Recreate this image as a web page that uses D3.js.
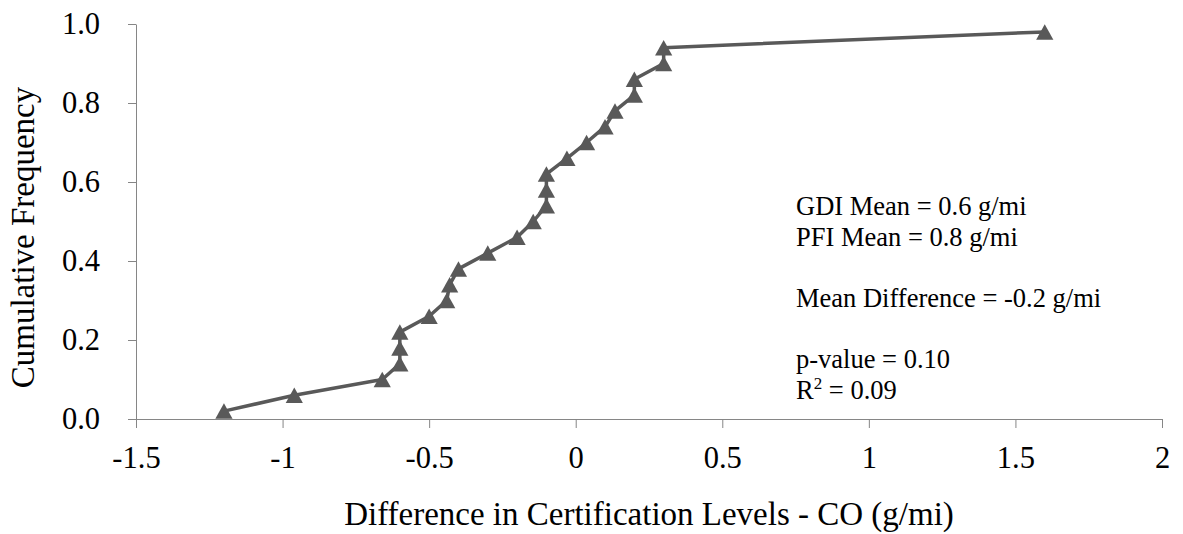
<!DOCTYPE html>
<html>
<head>
<meta charset="utf-8">
<script src="https://cdn.jsdelivr.net/npm/d3@7"></script>
<style>
  html, body { margin: 0; padding: 0; background: #fff; }
  svg { display: block; }
  svg text { font-family: "Liberation Serif", "Times New Roman", Tinos, "DejaVu Serif", serif !important; fill: #000; }
</style>
</head>
<body>
<svg id="chart" width="1183" height="534"></svg>
<script>
// Difference in certification CO levels (g/mi), sorted, with cumulative frequency
const coDifference = [-1.2, -0.96, -0.66, -0.6, -0.6, -0.6, -0.5, -0.44, -0.43, -0.4,
                      -0.3, -0.2, -0.145, -0.1, -0.1, -0.1, -0.03, 0.037, 0.1, 0.134,
                      0.2, 0.2, 0.3, 0.3, 1.6];
const cumulativeFrequency = [0.02, 0.06, 0.10, 0.14, 0.18, 0.22, 0.26, 0.30, 0.34, 0.38,
                             0.42, 0.46, 0.50, 0.54, 0.58, 0.62, 0.66, 0.70, 0.74, 0.78,
                             0.82, 0.86, 0.90, 0.94, 0.98];
const xTicks = [-1.5, -1, -0.5, 0, 0.5, 1, 1.5, 2];
const xTickLabels = ["-1.5", "-1", "-0.5", "0", "0.5", "1", "1.5", "2"];
const yTicks = [0, 0.2, 0.4, 0.6, 0.8, 1.0];
const yTickLabels = ["0.0", "0.2", "0.4", "0.6", "0.8", "1.0"];
const statsLines = [
  "GDI Mean = 0.6 g/mi",
  "PFI Mean = 0.8 g/mi",
  "",
  "Mean Difference = -0.2 g/mi",
  "",
  "p-value = 0.10",
  "R2 = 0.09"
];

const FONT = '"Liberation Serif", "Times New Roman", Tinos, "DejaVu Serif", serif';
const svg = d3.select("#chart");
const plot = { left: 136, right: 1162, top: 24, bottom: 419 };
const axisColor = "#868686";
const markColor = "#595959";

const x = d3.scaleLinear().domain([-1.5, 2]).range([plot.left, plot.right]);
const y = d3.scaleLinear().domain([0, 1]).range([plot.bottom, plot.top]);

// x axis
const xAxis = svg.append("g")
  .attr("transform", `translate(0,${plot.bottom})`)
  .call(d3.axisBottom(x).tickValues(xTicks)
    .tickFormat((d, i) => xTickLabels[i])
    .tickSizeInner(9).tickSizeOuter(0).tickPadding(18))
  .attr("font-family", FONT);
xAxis.select(".domain").attr("stroke", axisColor);
xAxis.selectAll(".tick line").attr("stroke", axisColor);
xAxis.selectAll(".tick text").attr("font-size", 30.5).attr("fill", "#000");

// y axis
const yAxis = svg.append("g")
  .attr("transform", `translate(${plot.left},0)`)
  .call(d3.axisLeft(y).tickValues(yTicks)
    .tickFormat((d, i) => yTickLabels[i])
    .tickSizeInner(8).tickSizeOuter(0).tickPadding(28))
  .attr("font-family", FONT);
yAxis.select(".domain").attr("stroke", axisColor);
yAxis.selectAll(".tick line").attr("stroke", axisColor);
yAxis.selectAll(".tick text").attr("font-size", 30.5).attr("fill", "#000");

// axis titles
svg.append("text")
  .attr("x", (plot.left + plot.right) / 2)
  .attr("y", 525)
  .attr("text-anchor", "middle")
  .attr("font-family", FONT)
  .attr("font-size", 33)
  .text("Difference in Certification Levels - CO (g/mi)");

svg.append("text")
  .attr("transform", `translate(34,${(plot.top + plot.bottom) / 2 + 16}) rotate(-90)`)
  .attr("text-anchor", "middle")
  .attr("font-family", FONT)
  .attr("font-size", 33)
  .text("Cumulative Frequency");

// cumulative distribution line
const pts = coDifference.map((d, i) => [d, cumulativeFrequency[i]]);
svg.append("path")
  .datum(pts)
  .attr("fill", "none")
  .attr("stroke", markColor)
  .attr("stroke-width", 3.5)
  .attr("stroke-linejoin", "round")
  .attr("d", d3.line().x(d => x(d[0])).y(d => y(d[1])));

// triangle markers, centred on their bounding box
const triangle = {
  draw(ctx, size) {
    const w = Math.sqrt(size) * 1.1, h = w * 0.9;
    ctx.moveTo(0, -h / 2);
    ctx.lineTo(w / 2, h / 2);
    ctx.lineTo(-w / 2, h / 2);
    ctx.closePath();
  }
};
svg.append("g").selectAll("path")
  .data(pts)
  .join("path")
  .attr("transform", d => `translate(${x(d[0])},${y(d[1])})`)
  .attr("fill", markColor)
  .attr("d", d3.symbol(triangle, 245));

// summary statistics
const stats = svg.append("text").attr("font-family", FONT).attr("font-size", 26.5);
statsLines.forEach((line, i) => {
  const t = stats.append("tspan").attr("x", 796).attr("y", 215 + i * 30.6);
  if (line.startsWith("R2")) {
    t.text("R");
    t.append("tspan").attr("font-size", 17).attr("dy", -10).text("2");
    t.append("tspan").attr("dy", 10).text(" = 0.09");
  } else {
    t.text(line);
  }
});
</script>
</body>
</html>
